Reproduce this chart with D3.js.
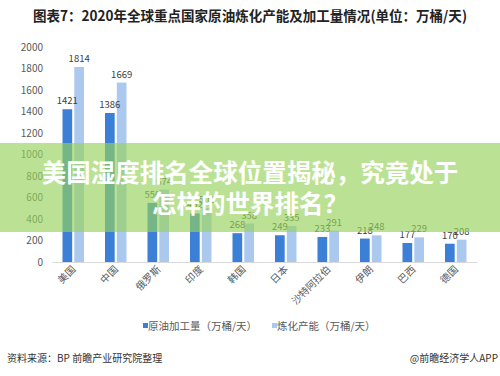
<!DOCTYPE html>
<html><head><meta charset="utf-8">
<script src="https://cdn.jsdelivr.net/npm/d3@7"></script>
<style>
body{margin:0;background:#fff;}
svg{display:block;font-family:"Noto Sans CJK SC","Noto Sans",sans-serif;}
</style></head>
<body><div id="chart"></div>
<script>
const categories = ["美国","中国","俄罗斯","印度","韩国","日本","沙特阿拉伯","伊朗","巴西","德国"];
const seriesNames = ["原油加工量（万桶/天）","炼化产能（万桶/天）"];
const throughput = [1421,1386,550,452,268,249,233,218,177,170];
const capacity = [1814,1669,674,502,358,335,291,248,229,208];
const yTicks = [0,200,400,600,800,1000,1200,1400,1600,1800,2000];
const colors = ["#3b7fd6","#abc9ef"];
const titleText = "图表7：2020年全球重点国家原油炼化产能及加工量情况(单位：万桶/天)";
const bannerLines = ["美国湿度排名全球位置揭秘，究竟处于","怎样的世界排名？"];
const sourceText = "资料来源：BP 前瞻产业研究院整理";
const creditText = "@前瞻经济学人APP";

const W=500,H=376;
const svg=d3.select("#chart").append("svg").attr("width",W).attr("height",H);
svg.append("rect").attr("width",W).attr("height",H).attr("fill","#fff");

// title
svg.append("text").attr("x",33).attr("y",21).attr("font-size",14).attr("font-weight","bold")
  .attr("fill","#222").attr("textLength",434).attr("lengthAdjust","spacingAndGlyphs").text(titleText);

const x0=d3.scaleBand().domain(categories).range([52,477]);
const x1=d3.scaleBand().domain([0,1]).range([10.5,32]).paddingInner(0.18);
const y=d3.scaleLinear().domain([0,2000]).range([262,47]);

// y axis labels
const yAxis=d3.axisLeft(y).tickValues(yTicks).tickSize(0).tickPadding(0).tickFormat(d3.format("d"));
const ya=svg.append("g").attr("transform","translate(43,0)").call(yAxis);
ya.select(".domain").remove();
ya.selectAll("text").attr("font-size",10).attr("fill","#595959").attr("font-family","'Noto Sans CJK SC',sans-serif");

// baseline
const xa=svg.append("g").attr("transform","translate(0,262)").call(d3.axisBottom(x0).tickSize(0).tickFormat(""));
xa.select(".domain").attr("stroke","#d9d9d9");

const data=categories.map((c,i)=>({c,v:[throughput[i],capacity[i]]}));
const gBars=svg.append("g"), gLabels=svg.append("g");
data.forEach(d=>{
  d.v.forEach((v,k)=>{
    const bx=x0(d.c)+x1(k);
    gBars.append("rect").attr("x",bx).attr("y",y(v)).attr("width",x1.bandwidth()).attr("height",y(0)-y(v)).attr("fill",colors[k]);
    gLabels.append("text").attr("x",bx+x1.bandwidth()/2).attr("y",y(v)-5).attr("text-anchor","middle")
      .attr("font-size",9.5).attr("fill","#404040").text(v);
  });
  const cx=x0(d.c)+x0.bandwidth()/2;
  gLabels.append("text").attr("transform",`translate(${cx+3},${270}) rotate(-45)`).attr("text-anchor","end")
    .attr("font-size",10).attr("fill","#595959").text(d.c);
});

// legend
const legend=[{x:143,t:seriesNames[0],c:colors[0]},{x:272,t:seriesNames[1],c:colors[1]}];
legend.forEach(l=>{
  svg.append("rect").attr("x",l.x).attr("y",323).attr("width",5).attr("height",5).attr("fill",l.c);
  svg.append("text").attr("x",l.x+5).attr("y",330).attr("font-size",10.5).attr("fill","#595959").text(l.t);
});

// footer
svg.append("text").attr("x",7).attr("y",362).attr("font-size",10).attr("fill","#333").text(sourceText);
svg.append("text").attr("x",498).attr("y",362).attr("text-anchor","end").attr("font-size",10).attr("fill","#333").text(creditText);

// banner overlay
svg.append("rect").attr("x",0).attr("y",143).attr("width",W).attr("height",89).attr("fill","rgb(150,210,90)").attr("opacity",0.65);
svg.append("text").attr("x",250).attr("y",182).attr("text-anchor","middle").attr("font-size",24.5).attr("font-weight","bold")
  .attr("fill","#fff").text(bannerLines[0]);
svg.append("text").attr("x",250).attr("y",213).attr("text-anchor","middle").attr("font-size",24.5).attr("font-weight","bold")
  .attr("fill","#fff").text(bannerLines[1]);
</script></body></html>
